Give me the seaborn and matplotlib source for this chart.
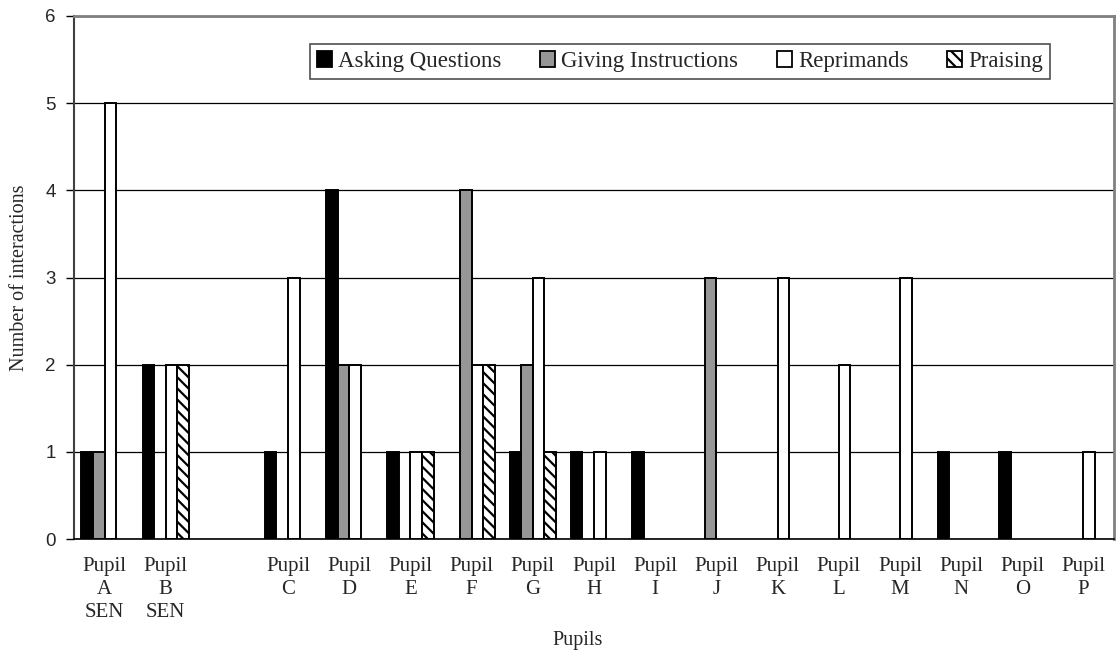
import matplotlib
matplotlib.use("Agg")
import matplotlib.pyplot as plt
import matplotlib.patches as mpatches
import seaborn as sns
import pandas as pd
import numpy as np

categories = ["Pupil\nA\nSEN", "Pupil\nB\nSEN", " ", "Pupil\nC", "Pupil\nD", "Pupil\nE",
              "Pupil\nF", "Pupil\nG", "Pupil\nH", "Pupil\nI", "Pupil\nJ", "Pupil\nK",
              "Pupil\nL", "Pupil\nM", "Pupil\nN", "Pupil\nO", "Pupil\nP"]
series = ["Asking Questions", "Giving Instructions", "Reprimands", "Praising"]
asking = [1, 2, 0, 1, 4, 1, 0, 1, 1, 1, 0, 0, 0, 0, 1, 1, 0]
giving = [1, 0, 0, 0, 2, 0, 4, 2, 0, 0, 3, 0, 0, 0, 0, 0, 0]
reprimands = [5, 2, 0, 3, 2, 1, 2, 3, 1, 0, 0, 3, 2, 3, 0, 0, 1]
praising = [0, 2, 0, 0, 0, 1, 2, 1, 0, 0, 0, 0, 0, 0, 0, 0, 0]
yticks = [0, 1, 2, 3, 4, 5, 6]

colors = {"Asking Questions": "#000000", "Giving Instructions": "#969696",
          "Reprimands": "#ffffff", "Praising": "#ffffff"}
hatches = {"Asking Questions": "", "Giving Instructions": "", "Reprimands": "", "Praising": "\\\\\\"}

rows = []
for s, vals in zip(series, [asking, giving, reprimands, praising]):
    for c, v in zip(categories, vals):
        rows.append({"Pupil": c, "Type": s, "Count": v})
df = pd.DataFrame(rows)

sns.set_style("white")
plt.rcParams["font.family"] = ["Liberation Serif", "DejaVu Serif"]
plt.rcParams["hatch.linewidth"] = 1.6

fig = plt.figure(figsize=(11.17, 6.57), dpi=100)
ax = fig.add_axes([74 / 1117, 1 - 539 / 657, 1040 / 1117, 523 / 657])

sns.barplot(data=df, x="Pupil", y="Count", hue="Type", order=categories, hue_order=series,
            palette=colors, edgecolor="black", linewidth=1.4, width=0.76, gap=0,
            saturation=1, legend=False, ax=ax, zorder=3)

for s, cont in zip(series, ax.containers):
    for p in cont.patches:
        p.set_hatch(hatches[s])
        if p.get_height() == 0:
            p.set_visible(False)

ax.set_xlim(-0.5, len(categories) - 0.5)
ax.set_ylim(0, 6)
ax.set_yticks(yticks)
ax.set_yticklabels([str(t) for t in yticks], family=["Liberation Sans"], fontsize=13.5)
ax.yaxis.grid(True, color="black", linewidth=0.9, zorder=0)
ax.xaxis.grid(False)
ax.set_axisbelow(True)

ax.set_xticks(np.arange(len(categories)))
ax.set_xticklabels(categories, fontsize=15, linespacing=1.28)
ax.set_xticks(np.arange(len(categories) + 1) - 0.5, minor=True)
ax.tick_params(axis="x", which="major", length=0, pad=13)
ax.tick_params(axis="x", which="minor", length=7, width=1, color="black", direction="out")
ax.tick_params(axis="y", which="major", length=6, width=1, color="black", direction="out", pad=7, left=True)

ax.set_xlabel("Pupils", fontsize=14.5)
ax.xaxis.set_label_coords((578 - 74) / 1040, (539 - 631) / 523)
ax.set_ylabel("Number of interactions", fontsize=14.5, labelpad=12)

ax.spines["left"].set_color("#404040")
ax.spines["left"].set_linewidth(1.5)
ax.spines["bottom"].set_color("black")
ax.spines["bottom"].set_linewidth(1.2)
for side in ["top", "right"]:
    ax.spines[side].set_color("#808080")
    ax.spines[side].set_linewidth(2)
    ax.spines[side].set_visible(True)

handles = [mpatches.Patch(facecolor=colors[s], edgecolor="black", linewidth=1.3,
                          hatch=hatches[s], label=s) for s in series]
leg = ax.legend(handles=handles, loc="center", bbox_to_anchor=((680 - 74) / 1040, (539 - 61.5) / 523),
                ncol=4, frameon=True, fancybox=False, edgecolor="#222222", fontsize=16.5,
                handlelength=0.65, handleheight=0.65, handletextpad=0.26, columnspacing=1.7,
                borderpad=0.3, borderaxespad=0)
leg.get_frame().set_linewidth(1.2)

fig.savefig("out.png", dpi=100, facecolor="white")
